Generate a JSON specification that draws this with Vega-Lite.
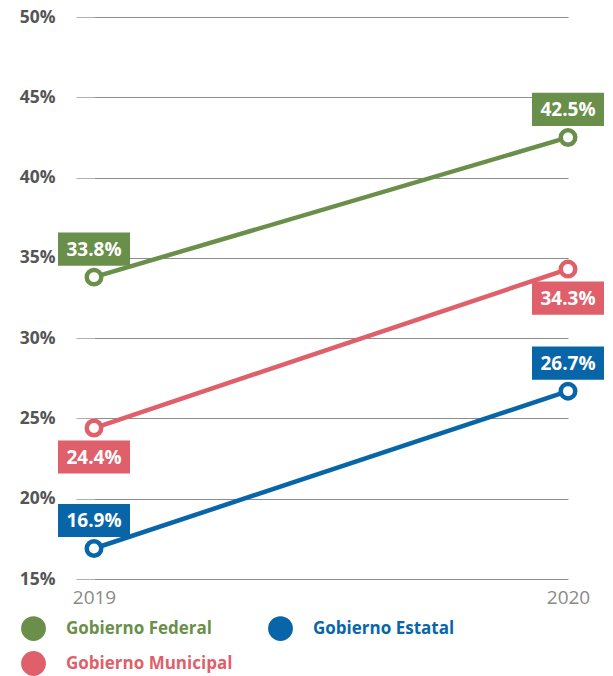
{
  "$schema": "https://vega.github.io/schema/vega-lite/v6.json",
  "width": 474,
  "height": 562,
  "autosize": {"type": "none"},
  "padding": {"left": 94, "top": 17, "right": 45, "bottom": 97},
  "background": "white",
  "config": {"view": {"stroke": null}, "font": "Open Sans"},
  "data": {
    "values": [
      {"serie": "Gobierno Federal", "year": 2019, "value": 33.8},
      {"serie": "Gobierno Federal", "year": 2020, "value": 42.5},
      {"serie": "Gobierno Estatal", "year": 2019, "value": 16.9},
      {"serie": "Gobierno Estatal", "year": 2020, "value": 26.7},
      {"serie": "Gobierno Municipal", "year": 2019, "value": 24.4},
      {"serie": "Gobierno Municipal", "year": 2020, "value": 34.3}
    ]
  },
  "transform": [{"calculate": "format(datum.value, '.1f') + '%'", "as": "label"}],
  "encoding": {
    "x": {
      "field": "year",
      "type": "quantitative",
      "scale": {"domain": [2019, 2020], "nice": false, "zero": false},
      "axis": {
        "title": null,
        "values": [2019, 2020],
        "format": "d",
        "grid": false,
        "domain": false,
        "ticks": false,
        "labelFlush": false,
        "labelPadding": 9,
        "labelFont": "Open Sans",
        "labelFontSize": 19,
        "labelColor": "#8a8a8a",
        "labelBaseline": "top"
      }
    },
    "y": {
      "field": "value",
      "type": "quantitative",
      "scale": {"domain": [15, 50], "nice": false, "zero": false},
      "axis": {
        "title": null,
        "values": [15, 20, 25, 30, 35, 40, 45, 50],
        "labelExpr": "datum.value + '%'",
        "grid": true,
        "gridColor": "#8c8c8c",
        "gridWidth": 1,
        "domain": false,
        "ticks": true,
        "tickSize": 18,
        "tickColor": "#b0b0b0",
        "tickWidth": 1,
        "labelPadding": 21,
        "labelFont": "Open Sans",
        "labelFontWeight": "bold",
        "labelFontSize": 17.5,
        "labelColor": "#555555"
      }
    },
    "color": {
      "field": "serie",
      "type": "nominal",
      "scale": {
        "domain": ["Gobierno Federal", "Gobierno Estatal", "Gobierno Municipal"],
        "range": ["#6a8f4a", "#0866a8", "#df5f6b"]
      },
      "legend": {
        "orient": "none",
        "legendX": -73,
        "legendY": 599,
        "direction": "horizontal",
        "columns": 2,
        "title": null,
        "symbolType": "circle",
        "symbolSize": 616,
        "symbolStrokeWidth": 0,
        "labelFont": "Open Sans",
        "labelFontWeight": "bold",
        "labelFontSize": 17,
        "labelOffset": 20,
        "labelLimit": 300,
        "rowPadding": 10,
        "columnPadding": 35,
        "encode": {
          "symbols": {"update": {"fill": {"scale": "color", "field": "value"}, "opacity": {"value": 1}}},
          "labels": {"update": {"fill": {"scale": "color", "field": "value"}}}
        }
      }
    }
  },
  "layer": [
    {"mark": {"type": "line", "strokeWidth": 4.5}},
    {
      "mark": {"type": "point", "shape": "circle", "filled": false, "fill": "white", "fillOpacity": 1, "opacity": 1, "size": 210, "strokeWidth": 4.5}
    },
    {
      "transform": [{"filter": "datum.serie !== 'Gobierno Municipal'"}],
      "mark": {"type": "point", "shape": "M-1,-0.46H1V0.46H-1Z", "size": 5184, "filled": true, "opacity": 1, "strokeWidth": 0, "yOffset": -28}
    },
    {
      "transform": [{"filter": "datum.serie === 'Gobierno Municipal'"}],
      "mark": {"type": "point", "shape": "M-1,-0.46H1V0.46H-1Z", "size": 5184, "filled": true, "opacity": 1, "strokeWidth": 0, "yOffset": 29}
    },
    {
      "transform": [{"filter": "datum.serie !== 'Gobierno Municipal'"}],
      "mark": {"type": "text", "yOffset": -27, "font": "Open Sans", "fontWeight": "bold", "fontSize": 19, "baseline": "middle", "align": "center"},
      "encoding": {"text": {"field": "label"}, "color": {"value": "white"}}
    },
    {
      "transform": [{"filter": "datum.serie === 'Gobierno Municipal'"}],
      "mark": {"type": "text", "yOffset": 30, "font": "Open Sans", "fontWeight": "bold", "fontSize": 19, "baseline": "middle", "align": "center"},
      "encoding": {"text": {"field": "label"}, "color": {"value": "white"}}
    }
  ]
}
